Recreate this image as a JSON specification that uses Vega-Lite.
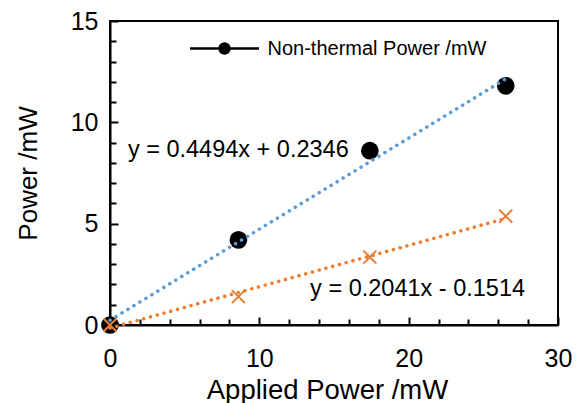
{
  "$schema": "https://vega.github.io/schema/vega-lite/v6.json",
  "width": 448,
  "height": 304,
  "autosize": {"type": "none"},
  "padding": {"left": 110, "top": 21, "right": 24, "bottom": 78},
  "background": "white",
  "config": {
    "view": {"stroke": "black", "strokeWidth": 2},
    "font": "Liberation Sans",
    "axis": {
      "grid": false,
      "domainColor": "black",
      "domainWidth": 2,
      "tickColor": "black",
      "tickWidth": 2,
      "labelColor": "black",
      "labelFont": "Liberation Sans",
      "labelFontSize": 25,
      "labelFlush": false,
      "titleFont": "Liberation Sans",
      "titleFontSize": 26,
      "titleFontWeight": "normal",
      "titleColor": "black"
    }
  },
  "datasets": {
    "points": [
      {"applied": 0, "power": 0, "series": "Non-thermal Power /mW"},
      {"applied": 8.6, "power": 4.2, "series": "Non-thermal Power /mW"},
      {"applied": 17.4, "power": 8.6, "series": "Non-thermal Power /mW"},
      {"applied": 26.5, "power": 11.8, "series": "Non-thermal Power /mW"},
      {"applied": 0, "power": 0, "series": "Thermal Power /mW"},
      {"applied": 8.6, "power": 1.4, "series": "Thermal Power /mW"},
      {"applied": 17.4, "power": 3.35, "series": "Thermal Power /mW"},
      {"applied": 26.5, "power": 5.37, "series": "Thermal Power /mW"}
    ],
    "trends": [
      {"applied": 0, "power": 0.2346, "series": "Non-thermal Power /mW"},
      {"applied": 26.5, "power": 12.144, "series": "Non-thermal Power /mW"},
      {"applied": 0, "power": -0.1514, "series": "Thermal Power /mW"},
      {"applied": 26.5, "power": 5.257, "series": "Thermal Power /mW"}
    ],
    "labels": [
      {"applied": 1.2, "power": 8.62, "label": "y = 0.4494x + 0.2346"},
      {"applied": 13.4, "power": 1.77, "label": "y = 0.2041x - 0.1514"}
    ]
  },
  "encoding": {
    "x": {
      "field": "applied",
      "type": "quantitative",
      "scale": {"domain": [0, 30], "nice": false, "zero": false},
      "axis": {
        "title": "Applied Power /mW",
        "values": [0, 2, 4, 6, 8, 10, 12, 14, 16, 18, 20, 22, 24, 26, 28, 30],
        "labelExpr": "datum.value % 10 === 0 ? datum.label : ''",
        "tickSize": {"condition": {"test": "datum.value % 10 === 0", "value": -8}, "value": -6},
        "labelPadding": 29,
        "titleFontSize": 27.5,
        "titleX": 217,
        "titleAlign": "center",
        "titlePadding": 5
      }
    },
    "y": {
      "field": "power",
      "type": "quantitative",
      "scale": {"domain": [0, 15], "nice": false, "zero": false},
      "axis": {
        "title": "Power /mW",
        "values": [0, 1, 2, 3, 4, 5, 6, 7, 8, 9, 10, 11, 12, 13, 14, 15],
        "labelExpr": "datum.value % 5 === 0 ? datum.label : ''",
        "tickSize": {"condition": {"test": "datum.value % 5 === 0", "value": -8}, "value": -6},
        "labelPadding": 20,
        "titlePadding": 29
      }
    }
  },
  "layer": [
    {
      "data": {"name": "points"},
      "transform": [{"filter": "datum.series === 'Non-thermal Power /mW'"}],
      "mark": {"type": "point", "shape": "circle", "filled": true, "size": 314, "opacity": 1},
      "encoding": {
        "color": {
          "field": "series",
          "type": "nominal",
          "scale": {"domain": ["Non-thermal Power /mW"], "range": ["black"]},
          "legend": {
            "orient": "none",
            "legendX": 101.5,
            "legendY": 14.5,
            "title": null,
            "padding": 0,
            "symbolType": "M-3,0L3,0M0.43,0A0.43,0.43 0 1,1 -0.43,0A0.43,0.43 0 1,1 0.43,0Z",
            "symbolSize": 529,
            "symbolStrokeColor": "black",
            "symbolFillColor": "black",
            "symbolStrokeWidth": 2.5,
            "symbolOpacity": 1,
            "labelFont": "Liberation Sans",
            "labelFontSize": 20,
            "labelColor": "black",
            "labelOffset": 30,
            "labelLimit": 400
          }
        }
      }
    },
    {
      "data": {"name": "points"},
      "transform": [{"filter": "datum.series === 'Thermal Power /mW'"}],
      "mark": {"type": "point", "shape": "M-1,-1L1,1M-1,1L1,-1", "filled": false, "size": 169, "strokeWidth": 2, "color": "#ED7D31", "opacity": 1}
    },
    {
      "data": {"name": "trends"},
      "transform": [{"filter": "datum.series === 'Non-thermal Power /mW'"}],
      "mark": {"type": "line", "color": "#5B9BD5", "strokeWidth": 3.5, "strokeDash": [0.1, 6.9], "strokeCap": "round"}
    },
    {
      "data": {"name": "trends"},
      "transform": [{"filter": "datum.series === 'Thermal Power /mW'"}],
      "mark": {"type": "line", "color": "#ED7D31", "strokeWidth": 3.5, "strokeDash": [0.1, 6.9], "strokeCap": "round"}
    },
    {
      "data": {"name": "labels"},
      "mark": {"type": "text", "align": "left", "baseline": "middle", "font": "Liberation Sans", "fontSize": 23.5, "color": "black"},
      "encoding": {"text": {"field": "label", "type": "nominal"}}
    }
  ]
}
